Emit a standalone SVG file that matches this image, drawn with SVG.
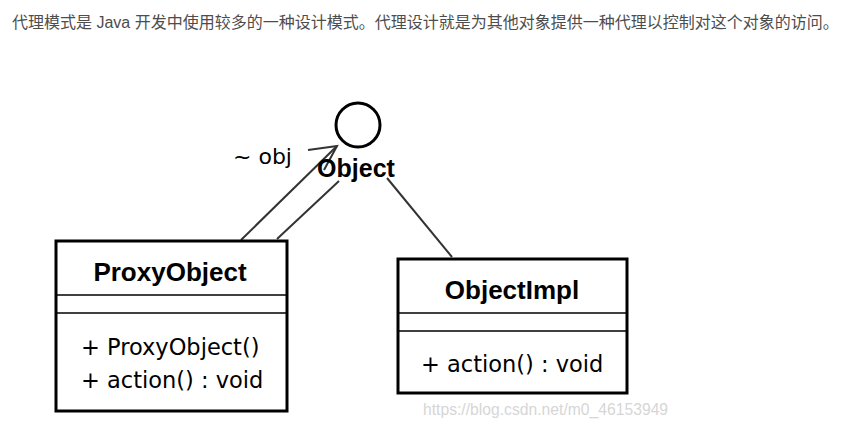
<svg xmlns="http://www.w3.org/2000/svg" width="855" height="439" viewBox="0 0 855 439">
<defs>
<style>
.cap{font-family:"Liberation Sans","Noto Sans CJK SC",sans-serif;font-size:16px;fill:#4d4d4d}
.box{fill:#fff;stroke:#000;stroke-width:3}
.div{stroke:#000;stroke-width:1.5}
.name{font-family:"Liberation Sans",sans-serif;font-weight:bold;font-size:26px;fill:#000;text-anchor:middle}
.meth{font-family:"DejaVu Sans",sans-serif;font-size:22.5px;fill:#000}
.ln{stroke:#333;stroke-width:2;fill:none}
.wm{font-family:"Liberation Sans",sans-serif;font-size:15.7px;fill:#d6d6d6}
</style>
</defs>
<rect width="855" height="439" fill="#fff"/>
<text class="cap" x="12" y="28">代理模式是 Java 开发中使用较多的一种设计模式。代理设计就是为其他对象提供一种代理以控制对这个对象的访问。</text>
<g id="connectors">
<line class="ln" x1="241" y1="240" x2="337" y2="146"/>
<polyline class="ln" points="308,150 337,146 324,170"/>
<line class="ln" x1="277" y1="239" x2="339" y2="181"/>
<line class="ln" x1="387" y1="178" x2="452" y2="257"/>
<text x="233" y="164" style="font-family:'DejaVu Sans',sans-serif;font-size:22px;fill:#000">~ obj</text>
</g>
<g id="Object">
<circle cx="358" cy="125" r="22" fill="none" stroke="#000" stroke-width="3"/>
<text x="356" y="177" class="name" style="font-size:25px">Object</text>
</g>
<g id="ProxyObject">
<rect class="box" x="56" y="241" width="231" height="170"/>
<line class="div" x1="56" y1="295" x2="287" y2="295"/>
<line class="div" x1="56" y1="313" x2="287" y2="313"/>
<text class="name" x="170" y="281">ProxyObject</text>
<text class="meth" x="81" y="355">+ ProxyObject()</text>
<text class="meth" x="81" y="388">+ action() : void</text>
</g>
<g id="ObjectImpl">
<rect class="box" x="398" y="259" width="229" height="134"/>
<line class="div" x1="398" y1="313" x2="627" y2="313"/>
<line class="div" x1="398" y1="331" x2="627" y2="331"/>
<text class="name" x="512" y="299">ObjectImpl</text>
<text class="meth" x="421" y="372">+ action() : void</text>
</g>
<text class="wm" x="423" y="415">https://blog.csdn.net/m0_46153949</text>
</svg>
